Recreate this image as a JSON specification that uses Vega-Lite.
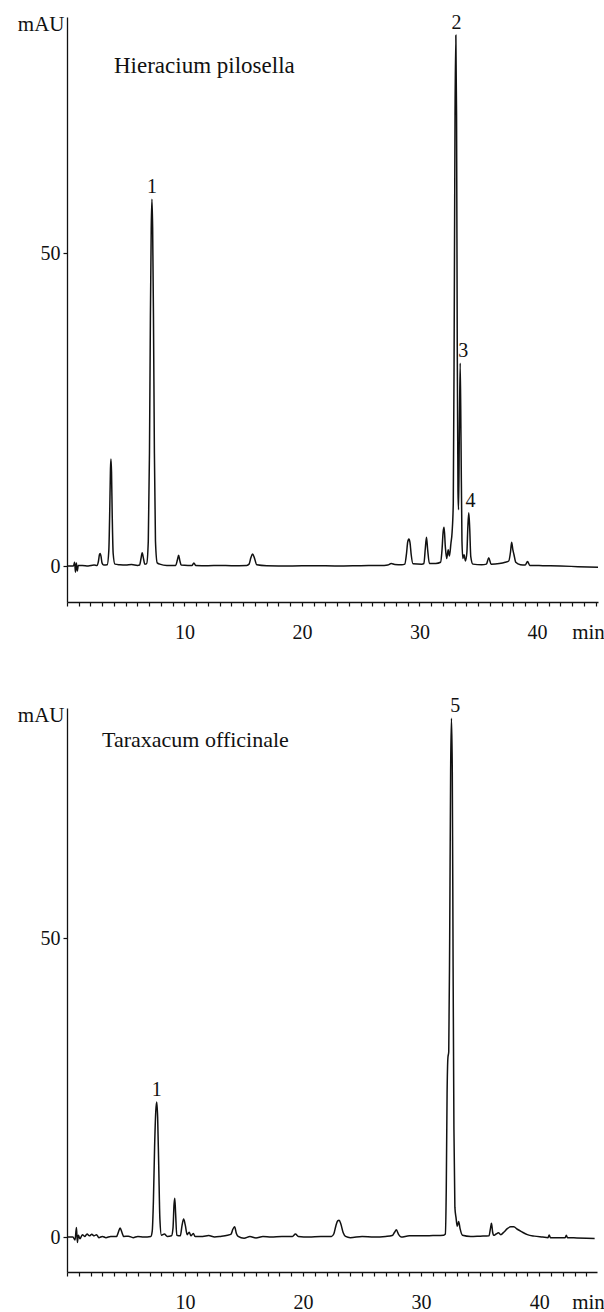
{
  "$schema": "https://vega.github.io/schema/vega-lite/v6.json",
  "background": "white",
  "padding": {"left": 17, "top": 13, "right": 0, "bottom": 0},
  "autosize": {"type": "pad"},
  "bounds": "flush",
  "spacing": 106,
  "config": {
    "font": "Liberation Serif, Times New Roman, serif",
    "view": {"stroke": null},
    "axis": {
      "grid": false,
      "domainColor": "#111",
      "tickColor": "#111",
      "labelColor": "#111",
      "titleColor": "#111",
      "labelFont": "Liberation Serif, Times New Roman, serif",
      "titleFont": "Liberation Serif, Times New Roman, serif",
      "labelFontSize": 20,
      "titleFontSize": 21,
      "titleFontWeight": "normal",
      "labelOverlap": false,
      "labelFlush": false,
      "tickSize": 4,
      "domainWidth": 1.3,
      "tickWidth": 1.2
    },
    "text": {"color": "#111", "font": "Liberation Serif, Times New Roman, serif"}
  },
  "datasets": {
    "hp": [
      {"t":0,"v":0},{"t":0.55,"v":0},{"t":0.65,"v":0.6},{"t":0.72,"v":-1.0},{"t":0.8,"v":0.5},{"t":0.88,"v":-0.8},{"t":0.96,"v":0.1},
      {"t":1.3,"v":0.1},{"t":1.8,"v":0},{"t":2.3,"v":0.15},{"t":2.55,"v":0.1},{"t":2.68,"v":0.8},{"t":2.76,"v":1.8},{"t":2.82,"v":2.0},
      {"t":2.9,"v":1.5},{"t":2.98,"v":0.5},{"t":3.12,"v":0.15},{"t":3.42,"v":0.2},{"t":3.56,"v":2.5},{"t":3.64,"v":9},{"t":3.7,"v":15.5},
      {"t":3.74,"v":17.1},{"t":3.79,"v":15},{"t":3.85,"v":8},{"t":3.93,"v":2},{"t":4.08,"v":0.3},{"t":4.5,"v":0.2},{"t":5.0,"v":0.15},
      {"t":5.5,"v":0.25},{"t":6.0,"v":0.1},{"t":6.18,"v":0.15},{"t":6.3,"v":1.2},{"t":6.4,"v":2.1},{"t":6.5,"v":1.3},{"t":6.62,"v":0.3},
      {"t":6.78,"v":0.4},{"t":6.92,"v":4},{"t":7.02,"v":18},{"t":7.1,"v":40},{"t":7.17,"v":54},{"t":7.23,"v":58.6},{"t":7.29,"v":54},
      {"t":7.36,"v":40},{"t":7.44,"v":18},{"t":7.53,"v":4},{"t":7.68,"v":0.5},{"t":7.9,"v":0.3},{"t":8.5,"v":0.1},{"t":9.25,"v":0.1},
      {"t":9.4,"v":1.0},{"t":9.5,"v":1.7},{"t":9.6,"v":0.9},{"t":9.72,"v":0.15},{"t":10.3,"v":0.1},{"t":10.65,"v":0.1},{"t":10.8,"v":0.5},
      {"t":10.95,"v":0.1},{"t":12,"v":0.05},{"t":13,"v":0.1},{"t":14,"v":0.05},{"t":15.3,"v":0.1},{"t":15.5,"v":0.3},{"t":15.65,"v":1.3},
      {"t":15.8,"v":1.9},{"t":15.95,"v":1.3},{"t":16.15,"v":0.2},{"t":17,"v":0.05},{"t":19,"v":0},{"t":21,"v":0.05},{"t":23,"v":0},
      {"t":25,"v":0.05},{"t":27,"v":0.1},{"t":27.3,"v":0.15},{"t":27.6,"v":0.4},{"t":27.9,"v":0.25},{"t":28.5,"v":0.2},{"t":28.75,"v":0.3},
      {"t":28.9,"v":2.0},{"t":29.0,"v":3.8},{"t":29.1,"v":4.3},{"t":29.2,"v":3.7},{"t":29.3,"v":1.8},{"t":29.45,"v":0.35},{"t":30.2,"v":0.3},
      {"t":30.38,"v":0.4},{"t":30.5,"v":2.8},{"t":30.6,"v":4.6},{"t":30.7,"v":2.6},{"t":30.85,"v":0.4},{"t":31.4,"v":0.4},{"t":31.8,"v":0.6},
      {"t":31.92,"v":2.5},{"t":32.02,"v":5.5},{"t":32.1,"v":6.2},{"t":32.2,"v":3.2},{"t":32.32,"v":1.2},{"t":32.45,"v":2.6},{"t":32.55,"v":1.6},
      {"t":32.68,"v":3.6},{"t":32.78,"v":5.4},{"t":32.88,"v":10},{"t":32.96,"v":38},{"t":33.03,"v":72},{"t":33.1,"v":84.8},{"t":33.16,"v":72},
      {"t":33.22,"v":35},{"t":33.28,"v":12},{"t":33.33,"v":9},{"t":33.4,"v":22},{"t":33.47,"v":32.4},{"t":33.54,"v":20},{"t":33.62,"v":4},
      {"t":33.7,"v":1.2},{"t":33.8,"v":1.8},{"t":33.92,"v":0.8},{"t":34.04,"v":2.2},{"t":34.12,"v":6.2},{"t":34.2,"v":8.5},{"t":34.28,"v":6.0},
      {"t":34.37,"v":1.5},{"t":34.55,"v":0.3},{"t":35.3,"v":0.2},{"t":35.7,"v":0.3},{"t":35.9,"v":1.3},{"t":36.1,"v":0.3},{"t":36.8,"v":0.4},
      {"t":37.3,"v":0.6},{"t":37.6,"v":0.8},{"t":37.75,"v":2.2},{"t":37.85,"v":3.8},{"t":37.95,"v":2.6},{"t":38.05,"v":1.8},{"t":38.2,"v":0.6},
      {"t":38.6,"v":0.2},{"t":39.0,"v":0.15},{"t":39.2,"v":0.7},{"t":39.4,"v":0.1},{"t":40.5,"v":0.05},{"t":42,"v":0},{"t":43.5,"v":-0.1},
      {"t":45.2,"v":-0.2}
    ],
    "to": [
      {"t":0,"v":0},{"t":0.5,"v":0},{"t":0.68,"v":-0.5},{"t":0.8,"v":1.6},{"t":0.88,"v":-0.9},{"t":0.96,"v":0.3},{"t":1.1,"v":-0.3},
      {"t":1.3,"v":0.4},{"t":1.5,"v":0.1},{"t":1.7,"v":0.5},{"t":1.9,"v":0.2},{"t":2.1,"v":0.45},{"t":2.3,"v":0.2},{"t":2.5,"v":0.4},
      {"t":2.7,"v":-0.1},{"t":3.0,"v":0.1},{"t":3.3,"v":-0.1},{"t":3.7,"v":0.1},{"t":4.2,"v":0.1},{"t":4.35,"v":0.8},{"t":4.5,"v":1.5},
      {"t":4.65,"v":0.8},{"t":4.8,"v":0.1},{"t":5.2,"v":0.15},{"t":5.6,"v":-0.1},{"t":6.0,"v":0.1},{"t":6.5,"v":0},{"t":7.1,"v":0.1},
      {"t":7.22,"v":1},{"t":7.32,"v":6},{"t":7.42,"v":15},{"t":7.52,"v":21},{"t":7.6,"v":22.6},{"t":7.68,"v":20},{"t":7.77,"v":12},
      {"t":7.87,"v":3},{"t":8.0,"v":0.3},{"t":8.25,"v":0.5},{"t":8.5,"v":0.1},{"t":8.85,"v":0.2},{"t":8.98,"v":1.5},{"t":9.07,"v":5.5},
      {"t":9.13,"v":6.5},{"t":9.2,"v":4},{"t":9.3,"v":0.3},{"t":9.6,"v":0.2},{"t":9.75,"v":2.0},{"t":9.88,"v":3.0},{"t":10.02,"v":2.0},
      {"t":10.18,"v":0.4},{"t":10.35,"v":0.8},{"t":10.5,"v":0.2},{"t":10.7,"v":0.6},{"t":10.85,"v":0.1},{"t":11.5,"v":0.1},{"t":12.0,"v":0.25},
      {"t":12.5,"v":0},{"t":13.0,"v":0.1},{"t":13.6,"v":0.3},{"t":13.9,"v":0.5},{"t":14.05,"v":1.3},{"t":14.2,"v":1.7},{"t":14.35,"v":0.6},
      {"t":14.5,"v":0.1},{"t":15.0,"v":-0.2},{"t":15.5,"v":0.1},{"t":16.0,"v":-0.15},{"t":16.6,"v":0.1},{"t":17.3,"v":0},{"t":18.2,"v":0.1},
      {"t":19.1,"v":0.1},{"t":19.35,"v":0.5},{"t":19.6,"v":0.1},{"t":20.5,"v":0},{"t":21.5,"v":0.1},{"t":22.4,"v":0.1},{"t":22.6,"v":0.5},
      {"t":22.78,"v":1.9},{"t":22.93,"v":2.7},{"t":23.05,"v":2.8},{"t":23.2,"v":2.2},{"t":23.4,"v":0.7},{"t":23.6,"v":0.1},{"t":24.0,"v":-0.1},
      {"t":25.0,"v":0.1},{"t":26.0,"v":0},{"t":27.0,"v":0.1},{"t":27.55,"v":0.25},{"t":27.75,"v":0.8},{"t":27.9,"v":1.2},{"t":28.1,"v":0.4},
      {"t":28.3,"v":0},{"t":29.0,"v":0.2},{"t":30.0,"v":0.2},{"t":31.0,"v":0.25},{"t":31.9,"v":0.3},{"t":32.05,"v":0.5},{"t":32.13,"v":8},
      {"t":32.2,"v":24},{"t":32.27,"v":30},{"t":32.34,"v":31},{"t":32.42,"v":50},{"t":32.5,"v":78},{"t":32.57,"v":86.8},{"t":32.64,"v":78},
      {"t":32.71,"v":45},{"t":32.78,"v":18},{"t":32.86,"v":5},{"t":32.96,"v":3.2},{"t":33.06,"v":1.8},{"t":33.18,"v":2.6},{"t":33.3,"v":1.4},
      {"t":33.5,"v":0.3},{"t":34.2,"v":0.1},{"t":35.0,"v":0.15},{"t":35.75,"v":0.2},{"t":35.88,"v":1.5},{"t":35.96,"v":2.3},{"t":36.06,"v":0.8},
      {"t":36.15,"v":0.3},{"t":36.35,"v":0.5},{"t":36.55,"v":0.7},{"t":36.75,"v":0.4},{"t":37.0,"v":0.8},{"t":37.3,"v":1.4},{"t":37.6,"v":1.7},
      {"t":37.85,"v":1.7},{"t":38.15,"v":1.3},{"t":38.5,"v":0.9},{"t":39.0,"v":0.4},{"t":39.6,"v":0.15},{"t":40.3,"v":0},{"t":40.75,"v":-0.1},
      {"t":40.85,"v":0.35},{"t":40.95,"v":-0.1},{"t":41.6,"v":-0.1},{"t":42.2,"v":-0.1},{"t":42.3,"v":0.3},{"t":42.4,"v":-0.1},{"t":43.2,"v":-0.15},
      {"t":44.0,"v":-0.2},{"t":44.7,"v":-0.25}
    ],
    "hpLabels": [
      {"label":"1","t":7.23,"h":58.6},
      {"label":"2","t":33.15,"h":84.8},
      {"label":"3","t":33.74,"h":32.4},
      {"label":"4","t":34.34,"h":8.5}
    ],
    "toLabels": [
      {"label":"1","t":7.6,"h":22.6},
      {"label":"5","t":32.9,"h":86.8}
    ],
    "hpName": [{"name":"Hieracium pilosella","t":4.0,"h":78.8}],
    "toName": [{"name":"Taraxacum officinale","t":2.97,"h":82.0}]
  },
  "vconcat": [
    {
      "width": 531,
      "height": 585,
      "encoding": {
        "x": {
          "field": "t", "type": "quantitative",
          "scale": {"domain": [0, 45.2], "nice": false, "zero": false},
          "axis": {
            "values": [0,1,2,3,4,5,6,7,8,9,10,11,12,13,14,15,16,17,18,19,20,21,22,23,24,25,26,27,28,29,30,31,32,33,34,35,36,37,38,39,40,41,42,43,44,45],
            "labelExpr": "datum.value % 10 === 0 && datum.value > 0 ? datum.label : ''",
            "labelBaseline": "alphabetic",
            "labelPadding": 32,
            "title": "min",
            "titleX": 521,
            "titleY": 36,
            "titleAlign": "center",
            "titleBaseline": "alphabetic"
          }
        }
      },
      "layer": [
        {
          "data": {"name": "hp"},
          "mark": {"type": "line", "color": "#111", "strokeWidth": 1.5, "interpolate": "monotone"},
          "encoding": {
            "y": {
              "field": "v", "type": "quantitative",
              "scale": {"domain": [-5.75, 87.7], "nice": false, "zero": false},
              "axis": {
                "values": [0, 50],
                "labelPadding": 3,
                "labelBaseline": "middle",
                "title": "mAU",
                "titleAngle": 0,
                "titleX": -3,
                "titleY": 13,
                "titleAlign": "right",
                "titleBaseline": "alphabetic"
              }
            }
          }
        },
        {
          "data": {"name": "hpLabels"},
          "mark": {"type": "text", "baseline": "alphabetic", "dy": -6, "fontSize": 20, "font": "Liberation Serif, Times New Roman, serif"},
          "encoding": {
            "y": {"field": "h", "type": "quantitative"},
            "text": {"field": "label"}
          }
        },
        {
          "data": {"name": "hpName"},
          "mark": {"type": "text", "baseline": "alphabetic", "align": "left", "fontSize": 23, "font": "Liberation Serif, Times New Roman, serif"},
          "encoding": {
            "y": {"field": "h", "type": "quantitative"},
            "text": {"field": "name"}
          }
        }
      ]
    },
    {
      "width": 530,
      "height": 564,
      "encoding": {
        "x": {
          "field": "t", "type": "quantitative",
          "scale": {"domain": [0, 44.9], "nice": false, "zero": false},
          "axis": {
            "values": [0,1,2,3,4,5,6,7,8,9,10,11,12,13,14,15,16,17,18,19,20,21,22,23,24,25,26,27,28,29,30,31,32,33,34,35,36,37,38,39,40,41,42,43,44],
            "labelExpr": "datum.value % 10 === 0 && datum.value > 0 ? datum.label : ''",
            "labelBaseline": "alphabetic",
            "labelPadding": 32,
            "title": "min",
            "titleX": 521,
            "titleY": 36,
            "titleAlign": "center",
            "titleBaseline": "alphabetic"
          }
        }
      },
      "layer": [
        {
          "data": {"name": "to"},
          "mark": {"type": "line", "color": "#111", "strokeWidth": 1.5, "interpolate": "monotone"},
          "encoding": {
            "y": {
              "field": "v", "type": "quantitative",
              "scale": {"domain": [-5.85, 88.5], "nice": false, "zero": false},
              "axis": {
                "values": [0, 50],
                "labelPadding": 3,
                "labelBaseline": "middle",
                "title": "mAU",
                "titleAngle": 0,
                "titleX": -3,
                "titleY": 13,
                "titleAlign": "right",
                "titleBaseline": "alphabetic"
              }
            }
          }
        },
        {
          "data": {"name": "toLabels"},
          "mark": {"type": "text", "baseline": "alphabetic", "dy": -6, "fontSize": 20, "font": "Liberation Serif, Times New Roman, serif"},
          "encoding": {
            "y": {"field": "h", "type": "quantitative"},
            "text": {"field": "label"}
          }
        },
        {
          "data": {"name": "toName"},
          "mark": {"type": "text", "baseline": "alphabetic", "align": "left", "fontSize": 22, "font": "Liberation Serif, Times New Roman, serif"},
          "encoding": {
            "y": {"field": "h", "type": "quantitative"},
            "text": {"field": "name"}
          }
        }
      ]
    }
  ]
}
